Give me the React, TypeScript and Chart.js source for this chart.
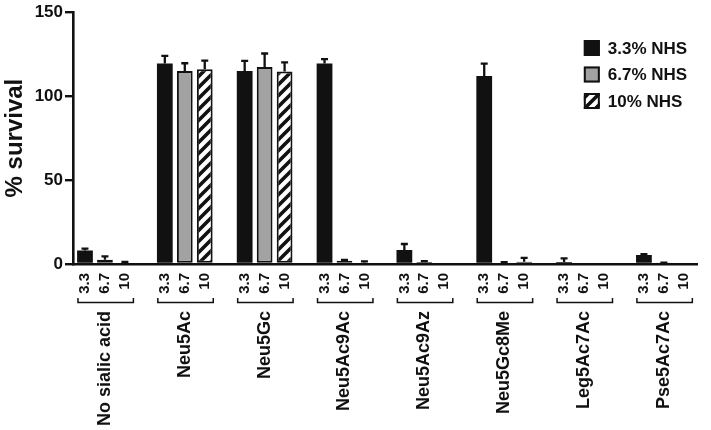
import React, { useEffect, useRef } from 'react';
import { Chart, registerables } from 'chart.js';

Chart.register(...registerables);

// ---- data ----
const groups = ['No sialic acid', 'Neu5Ac', 'Neu5Gc', 'Neu5Ac9Ac', 'Neu5Ac9Az', 'Neu5Gc8Me', 'Leg5Ac7Ac', 'Pse5Ac7Ac'];
const concLabels = ['3.3', '6.7', '10'];
const seriesNames = ['3.3% NHS', '6.7% NHS', '10% NHS'];
const nhs33 = [8, 119.5, 115, 119.5, 8.3, 112, 1.2, 5.4];
const nhs33Err = [1.2, 4.5, 6, 2.5, 3.6, 7.4, 2.2, 0.4];
const nhs67 = [2.5, 115, 117.4, 2, 1.2, 0.8, 0, 0.5];
const nhs67Err = [2, 4.6, 8, 0.5, 0.5, 0.3, 0, 0.3];
const nhs10 = [0.8, 116, 114.6, 0.8, 0, 1.4, 0, 0];
const nhs10Err = [0.5, 5.2, 5.5, 0.8, 0, 2.2, 0, 0];
const yTicks = [0, 50, 100, 150];

const FONT = '"Liberation Sans", Arial, Helvetica, sans-serif';
const INK = '#111111';
const GRAY = '#a2a2a2';
const SLOTS = 4;

function makeHatch(): CanvasPattern | string {
  const s = 11;
  const c = document.createElement('canvas');
  c.width = s;
  c.height = s;
  const g = c.getContext('2d');
  if (!g) return '#fff';
  g.fillStyle = '#ffffff';
  g.fillRect(0, 0, s, s);
  g.strokeStyle = INK;
  g.lineWidth = 3.6;
  g.beginPath();
  g.moveTo(-s, s); g.lineTo(s, -s);
  g.moveTo(0, 2 * s); g.lineTo(2 * s, 0);
  g.moveTo(0, s); g.lineTo(s, 0);
  g.stroke();
  return g.createPattern(c, 'repeat') || '#fff';
}

export default function App() {
  const ref = useRef<HTMLCanvasElement | null>(null);

  useEffect(() => {
    const canvas = ref.current;
    if (!canvas) return;
    const hatch = makeHatch();
    const values = [nhs33, nhs67, nhs10];
    const errs = [nhs33Err, nhs67Err, nhs10Err];
    const fills = [INK, GRAY, hatch];

    const tickPositions: number[] = [];
    groups.forEach((_, gi) => concLabels.forEach((__, si) => tickPositions.push(gi * SLOTS + si)));

    const datasets = values.map((arr, si) => ({
      label: seriesNames[si],
      data: arr.map((v, gi) => ({ x: gi * SLOTS + si, y: v })),
      backgroundColor: fills[si] as any,
      borderColor: INK,
      borderWidth: si === 0 ? 0 : 2,
      borderSkipped: false as any,
      grouped: false,
      categoryPercentage: 1,
      barPercentage: 0.79,
    }));

    const errorBars = {
      id: 'errorBars',
      afterDatasetsDraw(chart: any) {
        const ctx = chart.ctx;
        const y = chart.scales.y;
        ctx.save();
        ctx.strokeStyle = INK;
        ctx.lineWidth = 2.3;
        values.forEach((arr, si) => {
          const meta = chart.getDatasetMeta(si);
          arr.forEach((v, gi) => {
            const e = errs[si][gi];
            if (!e) return;
            const el = meta.data[gi];
            const top = y.getPixelForValue(v + e);
            const base = y.getPixelForValue(v);
            ctx.beginPath();
            ctx.moveTo(el.x, base);
            ctx.lineTo(el.x, top);
            ctx.moveTo(el.x - 3.5, top);
            ctx.lineTo(el.x + 3.5, top);
            ctx.stroke();
          });
        });
        ctx.restore();
      },
    };

    const groupLabels = {
      id: 'groupLabels',
      afterDraw(chart: any) {
        const ctx = chart.ctx;
        const x = chart.scales.x;
        const by = 302.5;
        ctx.save();
        ctx.strokeStyle = INK;
        ctx.lineWidth = 1.5;
        ctx.fillStyle = INK;
        ctx.font = `bold 18px ${FONT}`;
        groups.forEach((name, gi) => {
          const x0 = x.getPixelForValue(gi * SLOTS) - 7;
          const x1 = x.getPixelForValue(gi * SLOTS + 2) + 8.5;
          ctx.beginPath();
          ctx.moveTo(x0, by - 4.5);
          ctx.lineTo(x0, by);
          ctx.lineTo(x1, by);
          ctx.lineTo(x1, by - 4.5);
          ctx.stroke();
          const cx = x.getPixelForValue(gi * SLOTS + 1);
          ctx.save();
          ctx.translate(cx, by + 8.5);
          ctx.rotate(-Math.PI / 2);
          ctx.textAlign = 'right';
          ctx.textBaseline = 'middle';
          ctx.fillText(name, 0, 0);
          ctx.restore();
        });
        ctx.restore();
      },
    };

    const legendBox = {
      id: 'legendBox',
      afterDraw(chart: any) {
        const ctx = chart.ctx;
        const area = chart.chartArea;
        const bx = area.right - 114;
        const by0 = 40;
        const step = 26.5;
        const size = 16;
        ctx.save();
        ctx.font = `bold 17px ${FONT}`;
        ctx.textBaseline = 'middle';
        ctx.textAlign = 'left';
        seriesNames.forEach((name, si) => {
          const by = by0 + si * step;
          ctx.fillStyle = fills[si] as any;
          ctx.fillRect(bx, by, size, size);
          ctx.strokeStyle = INK;
          ctx.lineWidth = 2;
          ctx.strokeRect(bx + 1, by + 1, size - 2, size - 2);
          ctx.fillStyle = INK;
          ctx.fillText(name, bx + 24, by + size / 2 + 1);
        });
        ctx.restore();
      },
    };

    const chart = new Chart(canvas, {
      type: 'bar',
      data: { datasets: datasets as any },
      options: {
        responsive: false,
        animation: false,
        layout: { padding: { left: 0, top: 12, right: 7, bottom: 0 } },
        plugins: {
          legend: { display: false },
          tooltip: { enabled: false },
        },
        scales: {
          x: {
            type: 'linear',
            offset: false,
            min: -0.6,
            max: 30.7,
            grid: { display: false, drawTicks: false },
            border: { display: true, color: INK, width: 2.6 },
            afterBuildTicks: (axis: any) => {
              axis.ticks = tickPositions.map((v) => ({ value: v }));
            },
            afterFit: (axis: any) => {
              axis.height = 166;
            },
            ticks: {
              autoSkip: false,
              minRotation: 90,
              maxRotation: 90,
              padding: 9,
              color: INK,
              font: { family: FONT, size: 15, weight: 'bold' },
              callback: (v: any) => concLabels[Math.round(Number(v)) % SLOTS],
            },
          },
          y: {
            min: 0,
            max: 150,
            afterBuildTicks: (axis: any) => {
              axis.ticks = yTicks.map((v) => ({ value: v }));
            },
            afterFit: (axis: any) => {
              axis.width = 73;
            },
            grid: {
              display: true,
              drawOnChartArea: false,
              drawTicks: true,
              tickLength: 8,
              lineWidth: 2.4,
              color: INK,
            },
            border: { display: true, color: INK, width: 2.6 },
            ticks: {
              padding: 2,
              color: INK,
              font: { family: FONT, size: 17, weight: 'bold' },
            },
            title: {
              display: true,
              text: '% survival',
              color: INK,
              padding: { top: 1, bottom: 0 },
              font: { family: FONT, size: 24, weight: 'bold' },
            },
          },
        },
      },
      plugins: [errorBars, groupLabels, legendBox],
    });

    return () => chart.destroy();
  }, []);

  return (
    <div style={{ position: 'fixed', left: 0, top: 0, width: 711, height: 430, background: '#fff' }}>
      <canvas ref={ref} width={711} height={430} style={{ display: 'block', width: 711, height: 430 }} />
    </div>
  );
}
